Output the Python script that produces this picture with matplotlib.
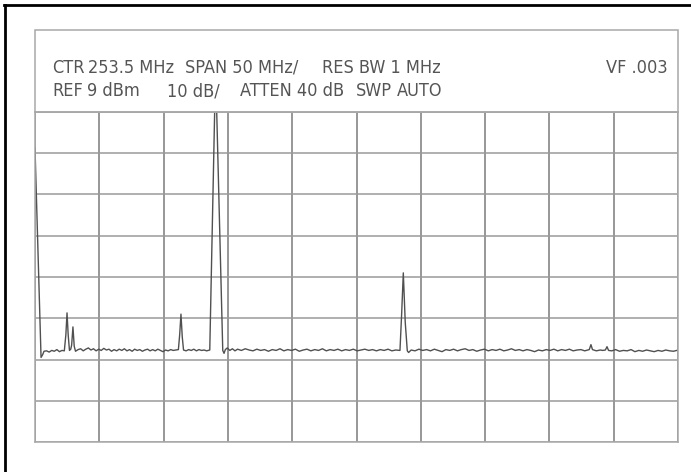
import matplotlib
matplotlib.use("Agg")
import matplotlib.pyplot as plt
from matplotlib.lines import Line2D
from matplotlib.patches import Rectangle

# analyser settings (from the screen header)
ref_level_dbm = 9
db_per_div = 10
n_vdiv = 8
center_mhz = 253.5
span_per_div_mhz = 50
n_hdiv = 10

# header fields and their left edge on the screen (px)
header_line1 = [("CTR", 52), ("253.5 MHz", 88), ("SPAN 50 MHz/", 185), ("RES BW 1 MHz", 322)]
header_line1_right = ("VF .003", 668)
header_line2 = [("REF", 52), ("9 dBm", 87), ("10 dB/", 167), ("ATTEN 40 dB", 240),
                ("SWP", 356), ("AUTO", 397)]

# trace: frequency (MHz) and level (dBm)
freq_mhz = [
    3.5, 8.2, 9.5, 10.5, 12.5, 14.5, 16.5, 18.5, 20.5, 22.5, 24.5, 26.3,
    27.5, 28.4, 29.3, 30.3, 31.3, 32.0, 33.0, 34.0, 35.0, 37, 39, 41, 43,
    45, 47, 49, 51, 53, 55, 57, 59, 61, 63, 65, 67, 69, 71, 73, 75, 77, 79,
    81, 83, 85, 87, 89, 91, 93, 95, 97, 99, 101, 103, 105, 107, 109, 111,
    113, 115, 116.0, 117.0, 118.0, 119.0, 121, 123, 125, 127, 129, 131, 133,
    135, 137, 139.4, 143.2, 144.8, 149.5, 150.5, 151.5, 153, 155, 157, 159,
    161, 164, 167, 170, 173, 176, 179, 182, 185, 188, 191, 194, 197, 200,
    203, 206, 209, 212, 215, 218, 221, 224, 227, 230, 233, 236, 239, 242,
    245, 248, 251, 254, 257, 260, 263, 266, 269, 272, 275, 278, 281, 284,
    287.3, 288.6, 289.9, 291.4, 293.0, 294.0, 296, 299, 302, 305, 308, 311,
    314, 317, 320, 323, 326, 329, 332, 335, 338, 341, 344, 347, 350, 353,
    356, 359, 362, 365, 368, 371, 374, 377, 380, 383, 386, 389, 392, 395,
    398, 401, 404, 407, 410, 413, 416, 419, 422, 425, 428, 431, 434.5,
    435.8, 437.0, 440, 443, 445, 447.0, 448.3, 449.5, 452, 455, 458, 461,
    464, 467, 470, 473, 476, 479, 482, 485, 488, 491, 494, 497, 500, 502.5,
]
level_dbm = [
    0.3, -50.5, -49.8, -49.0, -48.9, -49.2, -48.8, -49.0, -48.6, -49.1, -48.8, -48.9,
    -45.0, -39.7, -45.0, -48.8, -48.5, -47.5, -43.1, -47.8, -49.0, -48.6, -48.4, -48.9, -48.5,
    -48.2, -48.7, -48.4, -48.9, -48.5, -48.8, -48.3, -48.7, -48.5, -49.0, -48.6, -48.9, -48.5, -48.8, -48.4, -48.9, -48.6, -49.0,
    -48.5, -48.8, -48.6, -49.0, -48.7, -48.5, -48.9, -48.6, -48.9, -48.5, -48.8, -49.1, -48.7, -48.9, -48.6, -48.8,
    -48.7, -48.6, -45.0, -40.0, -45.5, -48.7, -48.9, -48.6, -48.8, -48.5, -48.9, -48.6, -48.8,
    -48.7, -48.9, -48.7, 9.0, 9.0, -48.8, -49.5, -48.6, -48.2, -48.8, -48.4, -48.9,
    -48.5, -48.8, -48.4, -48.7, -48.9, -48.5, -48.8, -48.6, -49.0, -48.6, -48.8, -48.4, -48.9, -48.6,
    -48.8, -48.5, -49.0, -48.7, -48.5, -48.9, -48.6, -48.8, -48.4, -48.9, -48.6, -48.8, -48.5, -48.9,
    -48.6, -48.8, -48.5, -48.9, -48.7, -48.5, -48.8, -48.6, -48.9, -48.6, -48.8, -48.5, -48.9, -48.7,
    -48.8, -40.0, -30.0, -42.0, -48.9, -49.3, -48.7, -48.9, -48.5, -48.8, -48.6, -48.9,
    -48.5, -48.8, -49.1, -48.6, -48.8, -48.5, -48.9, -48.6, -48.4, -48.8, -48.6, -49.0, -48.7, -48.5,
    -48.9, -48.6, -48.8, -48.5, -48.9, -48.7, -48.4, -48.8, -48.6, -48.9, -48.6, -48.8, -49.1, -48.7,
    -48.9, -48.6, -48.8, -48.5, -48.9, -48.6, -48.8, -48.5, -48.9, -48.7, -48.6, -48.9, -48.6,
    -47.4, -48.6, -48.9, -48.7, -48.8, -48.7, -47.9, -48.8, -48.9, -48.6, -49.0, -48.8,
    -48.9, -48.6, -49.1, -48.8, -49.0, -48.7, -48.9, -49.1, -48.8, -49.0, -48.7, -48.9, -49.0, -48.8,
]

W, H = 691, 472
fig = plt.figure(figsize=(W / 100, H / 100), dpi=100)


def fx(px):
    return px / W


def fy(py):
    return 1 - py / H


# screen geometry in pixels
gx0, gx1, gy0, gy1 = 35, 678, 112, 442
head_top = 30

ax = fig.add_axes([fx(gx0), fy(gy1), fx(gx1 - gx0), (gy1 - gy0) / H])
f_start = center_mhz - span_per_div_mhz * n_hdiv / 2
f_stop = center_mhz + span_per_div_mhz * n_hdiv / 2
bottom = ref_level_dbm - db_per_div * n_vdiv
ax.set_xlim(f_start, f_stop)
ax.set_ylim(bottom, ref_level_dbm)
ax.set_xticks([f_start + i * span_per_div_mhz for i in range(n_hdiv + 1)])
ax.set_yticks([bottom + i * db_per_div for i in range(n_vdiv + 1)])
ax.tick_params(length=0, labelbottom=False, labelleft=False)
ax.grid(axis="x", color="#7a7a7a", lw=1.1)
ax.grid(axis="y", color="#9a9a9a", lw=1.1)
for s in ax.spines.values():
    s.set_color("#a8a8a8")
    s.set_linewidth(1.1)

ax.plot(freq_mhz, level_dbm, color="#505050", lw=1.0, clip_on=True)

# header box above grid
fig.add_artist(Rectangle((fx(gx0), fy(gy0)), fx(gx1 - gx0), (gy0 - head_top) / H,
                         transform=fig.transFigure, fill=False, edgecolor="#a8a8a8", lw=1.1))

font = dict(family="DejaVu Sans", fontstretch="condensed", fontsize=13, color="#555555")
for txt, x in header_line1:
    fig.text(fx(x), fy(73), txt, ha="left", va="baseline", **font)
fig.text(fx(header_line1_right[1]), fy(73), header_line1_right[0], ha="right", va="baseline", **font)
for txt, x in header_line2:
    fig.text(fx(x), fy(96), txt, ha="left", va="baseline", **font)

# scanned page border (left and top)
fig.add_artist(Line2D([fx(4.5), fx(4.5)], [fy(5), 0], transform=fig.transFigure, color="black", lw=2.0))
fig.add_artist(Line2D([fx(3.5), 1], [fy(5), fy(5)], transform=fig.transFigure, color="black", lw=2.0))

fig.savefig("out.png", dpi=100)
